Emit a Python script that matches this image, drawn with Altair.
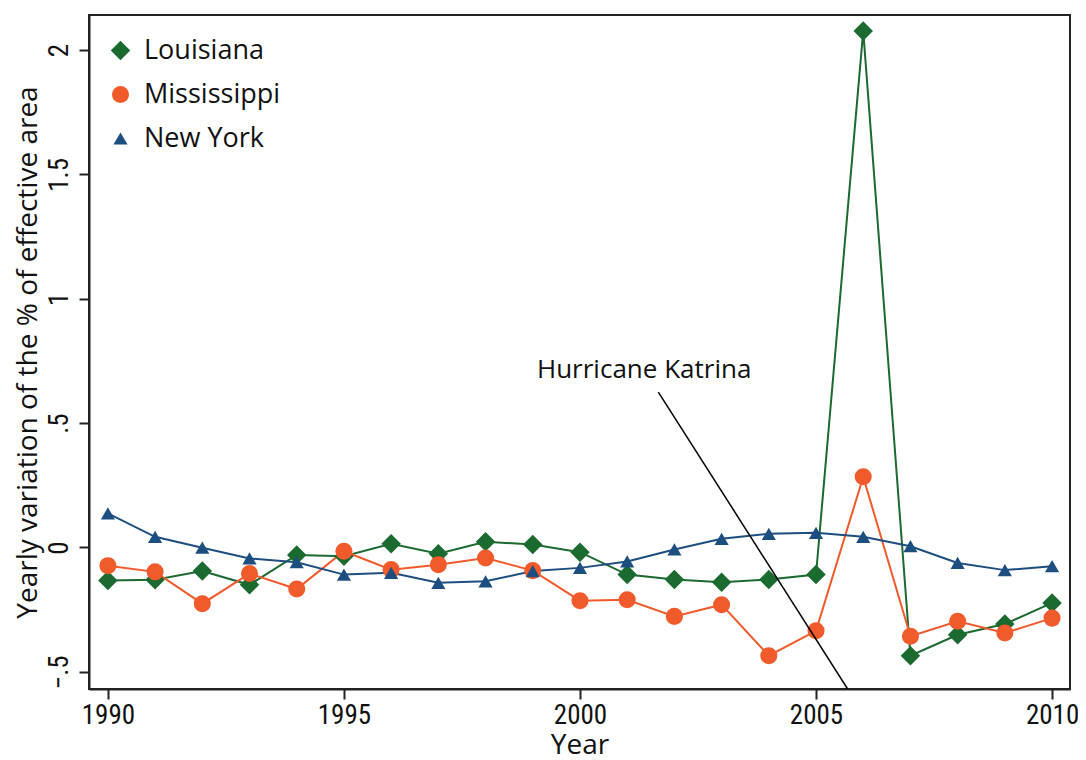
import altair as alt
import pandas as pd

years = list(range(1990, 2011))
states = ["Louisiana", "Mississippi", "New York"]
louisiana = [-0.133, -0.13, -0.095, -0.15, -0.03, -0.035, 0.015, -0.025, 0.023, 0.012,
             -0.019, -0.109, -0.129, -0.14, -0.129, -0.109, 2.077, -0.435, -0.351, -0.308, -0.223]
mississippi = [-0.073, -0.098, -0.226, -0.105, -0.167, -0.015, -0.089, -0.069, -0.042, -0.093,
               -0.214, -0.21, -0.277, -0.23, -0.435, -0.335, 0.284, -0.357, -0.297, -0.344, -0.284]
new_york = [0.137, 0.043, -0.001, -0.044, -0.059, -0.109, -0.102, -0.142, -0.136, -0.095,
            -0.082, -0.056, -0.008, 0.035, 0.055, 0.059, 0.043, 0.005, -0.062, -0.091, -0.075]
colors = ["#1b6a30", "#f15a2b", "#1d4e80"]
shapes = ["diamond", "circle", "triangle-up"]
marker_sizes = [380, 200, 300]
x_ticks = [1990, 1995, 2000, 2005, 2010]
y_ticks = [-0.5, 0, 0.5, 1, 1.5, 2]

annot_text = "Hurricane Katrina"
annot_text_pos = [2001.36, 0.714]
annot_line_x = [2001.66, 2005.67]
annot_line_y = [0.625, -0.569]

rows = []
for s, vals in zip(states, [louisiana, mississippi, new_york]):
    for y, v in zip(years, vals):
        rows.append({"Year": y, "State": s, "Value": v})
df = pd.DataFrame(rows)

FONT = "Open Sans"
NARROW = "Liberation Sans Narrow, Roboto Condensed, DejaVu Sans Condensed, sans-serif"
xscale = alt.Scale(domain=[1989.6, 2010.38], nice=False, zero=False)
yscale = alt.Scale(domain=[-0.569, 2.141], nice=False, zero=False)

legend = alt.Legend(title=None, orient="none", legendX=18, legendY=22, padding=0,
                    labelFont=FONT, labelFontSize=27, labelColor="#111", labelLimit=300,
                    symbolSize=270, symbolStrokeWidth=0, rowPadding=16, labelOffset=10)
color = alt.Color("State:N", scale=alt.Scale(domain=states, range=colors), legend=legend)
shape = alt.Shape("State:N", scale=alt.Scale(domain=states, range=shapes), legend=legend)
size = alt.Size("State:N", scale=alt.Scale(domain=states, range=marker_sizes), legend=None)

xenc = alt.X("Year:Q", scale=xscale,
             axis=alt.Axis(values=x_ticks, format="d", title="Year", grid=False,
                           labelFont=NARROW, labelFontSize=27, labelColor="#111",
                           titleFont=FONT, titleFontSize=28, titleColor="#111", titleFontWeight="normal",
                           tickSize=10, tickColor="#222", tickWidth=2, domainColor="#222", domainWidth=2,
                           labelPadding=3, titlePadding=3))
yenc = alt.Y("Value:Q", scale=yscale,
             axis=alt.Axis(values=y_ticks, title="Yearly variation of the % of effective area", grid=False,
                           labelExpr="datum.value == 0.5 ? '.5' : datum.value == -0.5 ? '\u2212.5' : format(datum.value, '~g')",
                           labelAngle=270, labelAlign="center", labelBaseline="bottom",
                           labelFont=NARROW, labelFontSize=27, labelColor="#111",
                           titleFont=FONT, titleFontSize=28, titleColor="#111", titleFontWeight="normal",
                           tickSize=10, tickColor="#222", tickWidth=2, domainColor="#222", domainWidth=2,
                           labelPadding=6, titlePadding=3))

lines = alt.Chart(df).mark_line(strokeWidth=2).encode(
    x=xenc, y=yenc,
    stroke=alt.Stroke("State:N", scale=alt.Scale(domain=states, range=colors), legend=None),
    detail="State:N")
points = alt.Chart(df).mark_point(filled=True, opacity=1).encode(
    x="Year:Q", y="Value:Q", color=color, shape=shape, size=size)

line_df = pd.DataFrame({"x": annot_line_x, "y": annot_line_y})
annot_line = alt.Chart(line_df).mark_line(color="black", strokeWidth=1.5, clip=True).encode(x="x:Q", y="y:Q")
text_df = pd.DataFrame({"x": [annot_text_pos[0]], "y": [annot_text_pos[1]], "t": [annot_text]})
annot_txt = alt.Chart(text_df).mark_text(font=FONT, fontSize=26, color="#111", align="center").encode(
    x="x:Q", y="y:Q", text="t:N")

chart = alt.layer(lines, points, annot_line, annot_txt).resolve_scale(
    stroke="independent").properties(
    width=981, height=674,
    autosize=alt.AutoSizeParams(type="none"),
    padding={"left": 81, "top": 7, "right": 8, "bottom": 71},
    background="white").configure_view(stroke="#222", strokeWidth=2)

chart.save("out.html", embed_options={"renderer": "svg", "actions": False})
